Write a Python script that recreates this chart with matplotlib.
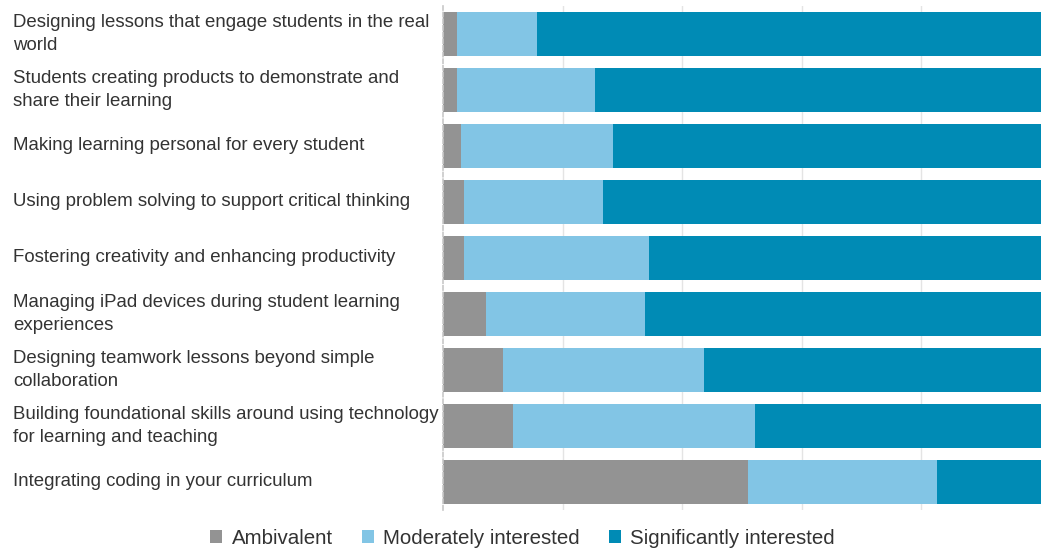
import matplotlib
matplotlib.use('Agg')
import matplotlib.pyplot as plt
import matplotlib.transforms as mtransforms
from matplotlib.patches import Patch

plt.rcParams['font.family'] = ['Liberation Sans', 'DejaVu Sans']

# --- Survey data (percent of respondents) ---
topics = [
    "Designing lessons that engage students in the real\nworld",
    "Students creating products to demonstrate and\nshare their learning",
    "Making learning personal for every student",
    "Using problem solving to support critical thinking",
    "Fostering creativity and enhancing productivity",
    "Managing iPad devices during student learning\nexperiences",
    "Designing teamwork lessons beyond simple\ncollaboration",
    "Building foundational skills around using technology\nfor learning and teaching",
    "Integrating coding in your curriculum",
]
ambivalent = [2.3, 2.3, 3.0, 3.5, 3.5, 7.2, 10.0, 11.7, 51.0]
moderately = [13.4, 23.2, 25.4, 23.2, 30.9, 26.6, 33.6, 40.5, 31.6]
significantly = [84.3, 74.5, 71.6, 73.3, 65.6, 66.2, 56.4, 47.8, 17.4]

series_names = ["Ambivalent", "Moderately interested", "Significantly interested"]
colors = ["#939393", "#82c5e5", "#008bb5"]

fig = plt.figure(figsize=(10.45, 5.5), dpi=100)
ax = fig.add_axes([443 / 1045, 1 - 510 / 550, 598 / 1045, 504 / 550])

ypos = list(range(len(topics)))
left = [0.0] * len(topics)
for vals, col in zip([ambivalent, moderately, significantly], colors):
    ax.barh(ypos, vals, left=left, height=0.77, color=col, zorder=2)
    left = [a + b for a, b in zip(left, vals)]

ax.set_xlim(0, 100)
ax.set_ylim(len(topics) - 0.5, -0.5)
ax.set_xticks([20, 40, 60, 80])
ax.xaxis.grid(True, color="#e4e4e4", linewidth=1, zorder=0)
ax.tick_params(left=False, bottom=False, labelbottom=False, labelleft=False)
for s in ["top", "right", "bottom"]:
    ax.spines[s].set_visible(False)
ax.spines["left"].set_color("#c8c8c8")
ax.spines["left"].set_linestyle((0, (2.5, 1.5)))
ax.spines["left"].set_linewidth(1.2)

# left-aligned category labels
trans = mtransforms.blended_transform_factory(fig.transFigure, ax.transData)
for y, t in zip(ypos, topics):
    ax.text(13 / 1045, y, t, transform=trans, ha="left", va="center",
            fontsize=13.4, color="#333333", linespacing=1.42)

handles = [Patch(facecolor=c, edgecolor="none") for c in colors]
fig.legend(handles, series_names, loc="lower center", bbox_to_anchor=(0.5, -0.03),
           ncol=3, frameon=False, fontsize=14.8, handlelength=0.6, handleheight=0.6,
           handletextpad=0.45, columnspacing=1.4, labelcolor="#333333")

fig.savefig("out.png", dpi=100)
